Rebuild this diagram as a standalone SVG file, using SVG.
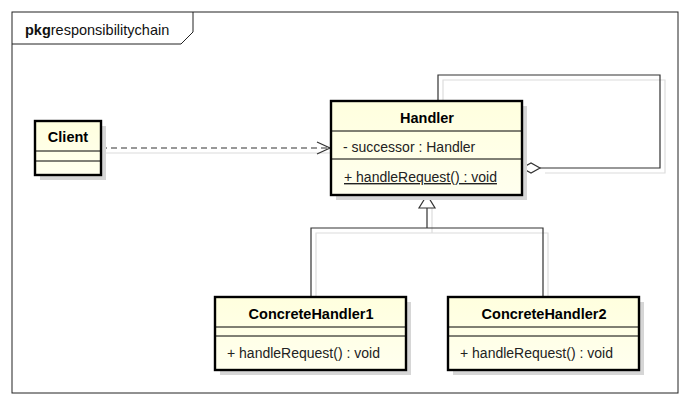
<svg xmlns="http://www.w3.org/2000/svg" width="690" height="400" viewBox="0 0 690 400">
<defs>
<linearGradient id="fillg" x1="0" y1="0" x2="0" y2="1">
<stop offset="0" stop-color="#FFFFDE"/>
<stop offset="1" stop-color="#FFFFEF"/>
</linearGradient>
<marker id="openarrow" markerWidth="16" markerHeight="14" refX="14" refY="7" orient="auto" markerUnits="userSpaceOnUse">
<path d="M1,1 L14,7 L1,13" fill="none" stroke="#333" stroke-width="1.2"/>
</marker>
</defs>
<style>
.shadow{fill:#D6D6D6;stroke:none}
.box{fill:url(#fillg);stroke:#000;stroke-width:2.4}
.div{stroke:#000;stroke-width:1}
.name{font-family:"Liberation Sans",Arial,sans-serif;font-size:14.5px;font-weight:bold;fill:#000;text-anchor:middle}
.attr{font-family:"Liberation Sans",Arial,sans-serif;font-size:14px;fill:#222}
.conn{fill:none;stroke:#333;stroke-width:1.2}
.connsh{fill:none;stroke:#DCDCDC;stroke-width:1.2}
</style>
<rect x="0" y="0" width="690" height="400" fill="#fff"/>
<g id="frame">
<rect x="12" y="12" width="666" height="381" fill="none" stroke="#222" stroke-width="1"/>
<path d="M12,44 L181,44 L193,32 L193,12" fill="none" stroke="#222" stroke-width="1"/>
<text x="25" y="35" font-family="Liberation Sans,Arial,sans-serif" font-size="14.5px" fill="#111"><tspan font-weight="bold">pkg</tspan>responsibilitychain</text>
</g>
<g id="connectors">
<path class="connsh" d="M443,101 L443,80 L665,80 L665,173 L545,173"/>
<path class="conn" d="M438,101 L438,75 L660,75 L660,168 L540,168"/>
<path d="M522,168 L531,163 L540,168 L531,173 Z" fill="#fff" stroke="#333" stroke-width="1.2"/>
<path class="connsh" d="M101,153 L331,153"/>
<path class="conn" d="M101,148 L330,148" stroke-dasharray="6,4" marker-end="url(#openarrow)"/>
<path class="connsh" d="M432,208 L432,233 M316,297 L316,233 L548,233 L548,297"/>
<path class="conn" d="M427,208 L427,228 M311,297 L311,228 L543,228 L543,297"/>
<path d="M427,195 L419,208 L435,208 Z" fill="#fff" stroke="#333" stroke-width="1.2"/>
</g>
<g id="Client">
<rect class="shadow" x="40" y="126" width="66" height="54"/>
<rect class="box" x="35" y="121" width="66" height="54"/>
<line class="div" x1="35" y1="151" x2="101" y2="151"/>
<line class="div" x1="35" y1="161" x2="101" y2="161"/>
<text class="name" x="68" y="142">Client</text>
</g>
<g id="Handler">
<rect class="shadow" x="336" y="106" width="191" height="94"/>
<rect class="box" x="331" y="101" width="191" height="94"/>
<line class="div" x1="331" y1="131" x2="522" y2="131"/>
<line class="div" x1="331" y1="159" x2="522" y2="159"/>
<text class="name" x="427" y="123">Handler</text>
<text class="attr" x="343" y="152">- successor : Handler</text>
<text class="attr" x="344" y="182" text-decoration="underline">+ handleRequest() : void</text>
</g>
<g id="ConcreteHandler1">
<rect class="shadow" x="220" y="302" width="191" height="73"/>
<rect class="box" x="215" y="297" width="191" height="73"/>
<line class="div" x1="215" y1="327" x2="406" y2="327"/>
<line class="div" x1="215" y1="336" x2="406" y2="336"/>
<text class="name" x="311" y="319">ConcreteHandler1</text>
<text class="attr" x="227" y="358">+ handleRequest() : void</text>
</g>
<g id="ConcreteHandler2">
<rect class="shadow" x="453" y="302" width="191" height="73"/>
<rect class="box" x="448" y="297" width="191" height="73"/>
<line class="div" x1="448" y1="327" x2="639" y2="327"/>
<line class="div" x1="448" y1="336" x2="639" y2="336"/>
<text class="name" x="544" y="319">ConcreteHandler2</text>
<text class="attr" x="460" y="358">+ handleRequest() : void</text>
</g>
</svg>
